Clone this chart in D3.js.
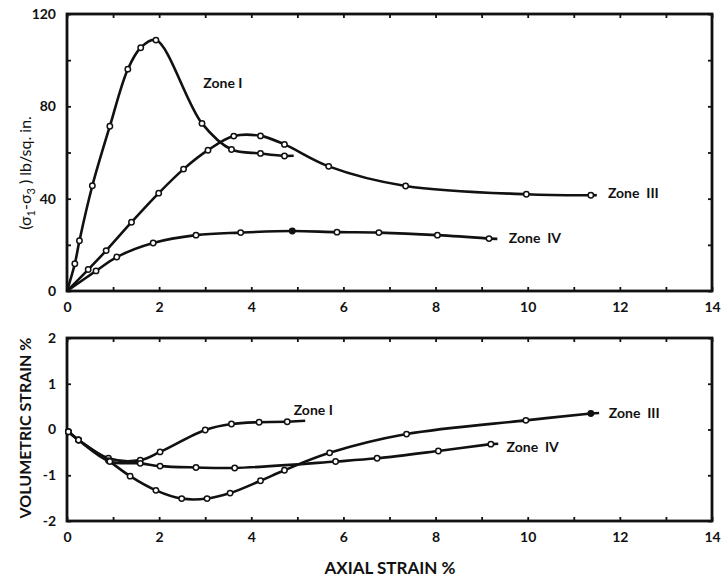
<!DOCTYPE html>
<html><head><meta charset="utf-8">
<script src="https://cdn.jsdelivr.net/npm/d3@7"></script>
<style>
body{margin:0;background:#fff;}
text{font-family:Lato,"Open Sans",sans-serif;fill:#111;}
</style></head><body>
<svg id="c" width="722" height="585"></svg>
<script>
// ---------- DATA ----------
const xTicks = [0,1,2,3,4,5,6,7,8,9,10,11,12,13,14];
const xTickLabels = [0,2,4,6,8,10,12,14];
const topYTicks = [0,20,40,60,80,100,120];
const topYLabels = [0,40,80,120];
const botYTicks = [-2,-1,0,1,2];

// Deviator stress (lb/sq.in.) vs axial strain (%)
const topZone1 = [[0,0],[0.17,11.8],[0.27,21.8],[0.55,45.6],[0.93,71.4],[1.32,96.1],[1.60,105.4],[1.93,108.7],[2.93,72.6],[3.57,61.3],[4.20,59.6],[4.72,58.5]];
const topZone3 = [[0,0],[0.46,9.3],[0.85,17.5],[1.40,29.8],[1.99,42.4],[2.53,52.8],[3.06,61.0],[3.62,67.1],[4.20,67.2],[4.72,63.5],[5.68,54.0],[7.35,45.5],[9.97,41.9],[11.37,41.5]];
const topZone4 = [[0,0],[0.63,8.7],[1.08,14.7],[1.87,20.8],[2.80,24.2],[3.77,25.3],[4.89,26.0],[5.86,25.5],[6.77,25.3],[8.04,24.2],[9.16,22.7]];
const topTails = [[4.92,58.6],[11.5,41.5],[9.34,22.6]];
const topFilled = [[4.89,26.0]];
const topZoneNames = ["Zone I","Zone  III","Zone  IV"];
const topZonePos = [[2.96,90.2],[11.74,42.4],[9.59,22.9]];

// Volumetric strain (%) vs axial strain (%)
const botZone1 = [[0.03,-0.05],[0.25,-0.23],[0.90,-0.63],[1.59,-0.67],[2.02,-0.49],[3.00,-0.01],[3.57,0.12],[4.17,0.16],[4.78,0.17]];
const botZone3 = [[0.03,-0.05],[0.25,-0.23],[0.90,-0.68],[1.37,-1.02],[1.93,-1.33],[2.49,-1.51],[3.04,-1.51],[3.54,-1.39],[4.20,-1.12],[4.72,-0.89],[5.70,-0.51],[7.37,-0.10],[9.96,0.20],[11.37,0.35]];
const botZone4 = [[0.03,-0.05],[0.25,-0.23],[0.93,-0.70],[1.59,-0.74],[2.02,-0.80],[2.80,-0.83],[3.64,-0.84],[5.83,-0.70],[6.73,-0.63],[8.06,-0.47],[9.20,-0.32]];
const botTails = [[5.17,0.19],[11.55,0.36],[9.36,-0.31]];
const botFilled = [[11.37,0.35]];
const botZoneNames = ["Zone I","Zone  III","Zone  IV"];
const botZonePos = [[4.92,0.42],[11.76,0.36],[9.54,-0.39]];
</script>
<script>
const svg = d3.select("#c");
const L=67,R=712;
const x = d3.scaleLinear().domain([0,14]).range([L,R]);
const yT = d3.scaleLinear().domain([0,120]).range([291,14]);
const yB = d3.scaleLinear().domain([-2,2]).range([521,338]);

function panel(y, yTicks, fmtY){
  const top=y.range()[1], bot=y.range()[0];
  const g=svg.append("g");
  const ax = (a)=>a.tickSizeOuter(0);
  g.append("g").attr("transform",`translate(0,${bot})`)
    .call(ax(d3.axisBottom(x).tickValues(xTicks).tickSize(-4).tickPadding(11)
      .tickFormat(d=>xTickLabels.includes(d)?d:"")));
  g.append("g").attr("transform",`translate(0,${top})`)
    .call(ax(d3.axisTop(x).tickValues(xTicks).tickSize(-4).tickFormat("")));
  g.append("g").attr("transform",`translate(${L},0)`)
    .call(ax(d3.axisLeft(y).tickValues(yTicks).tickSize(-4).tickPadding(11).tickFormat(fmtY)));
  g.append("g").attr("transform",`translate(${R},0)`)
    .call(ax(d3.axisRight(y).tickValues(yTicks).tickSize(-4).tickFormat("")));
  g.selectAll(".domain").remove();
  g.selectAll(".tick line").attr("stroke","#111").attr("stroke-width",1.8);
  g.selectAll(".tick text").attr("font-size",14).attr("font-weight",700).attr("fill","#111")
    .attr("font-family","Lato, sans-serif");
  g.append("rect").attr("x",L).attr("y",top).attr("width",R-L).attr("height",bot-top)
    .attr("fill","none").attr("stroke","#111").attr("stroke-width",2.8);
}
panel(yT, topYTicks, d=>topYLabels.includes(d)?d:"");
panel(yB, botYTicks, d=>d<0?"-"+Math.abs(d):d);

function series(y, pts, tail, filled){
  const line=d3.line().x(d=>x(d[0])).y(d=>y(d[1])).curve(d3.curveCatmullRom.alpha(0.5));
  svg.append("path").attr("d",line(pts)).attr("fill","none").attr("stroke","#111").attr("stroke-width",2.6);
  const last=pts[pts.length-1];
  svg.append("path").attr("d",d3.line().x(d=>x(d[0])).y(d=>y(d[1]))([last,tail]))
    .attr("fill","none").attr("stroke","#111").attr("stroke-width",2.6);
  svg.append("g").selectAll("circle").data(pts.filter(p=>!(p[0]===0&&p[1]===0))).join("circle")
    .attr("cx",d=>x(d[0])).attr("cy",d=>y(d[1])).attr("r",2.7)
    .attr("fill",d=>filled.some(f=>f[0]===d[0]&&f[1]===d[1])?"#111":"#fff")
    .attr("stroke","#111").attr("stroke-width",1.5);
}
series(yT, topZone1, topTails[0], topFilled);
series(yT, topZone3, topTails[1], topFilled);
series(yT, topZone4, topTails[2], topFilled);
series(yB, botZone1, botTails[0], botFilled);
series(yB, botZone3, botTails[1], botFilled);
series(yB, botZone4, botTails[2], botFilled);

function labels(y, names, pos){
  svg.append("g").selectAll("text").data(names).join("text")
    .attr("x",(d,i)=>x(pos[i][0])).attr("y",(d,i)=>y(pos[i][1])).attr("dy","0.35em")
    .attr("font-size",14).attr("font-weight",700).style("white-space","pre").text(d=>d);
}
labels(yT, topZoneNames, topZonePos);
labels(yB, botZoneNames, botZonePos);

// axis titles
svg.append("text").attr("x",390).attr("y",568).attr("dy","0.35em").attr("text-anchor","middle")
  .attr("font-size",17).attr("font-weight",700).text("AXIAL STRAIN %");
const yt = svg.append("text").attr("transform","translate(25,173) rotate(-90)")
  .attr("text-anchor","middle").attr("dy","0.35em").attr("font-size",16);
yt.append("tspan").text("(σ");
yt.append("tspan").attr("font-size",11).attr("dy",4).text("1");
yt.append("tspan").attr("dy",-4).text("-σ");
yt.append("tspan").attr("font-size",11).attr("dy",4).text("3");
yt.append("tspan").attr("dy",-4).text(" ) lb/sq. in.");
svg.append("text").attr("transform","translate(25,428) rotate(-90)")
  .attr("text-anchor","middle").attr("dy","0.35em").attr("font-size",16).attr("font-weight",700)
  .text("VOLUMETRIC STRAIN %");
</script>
</body></html>
